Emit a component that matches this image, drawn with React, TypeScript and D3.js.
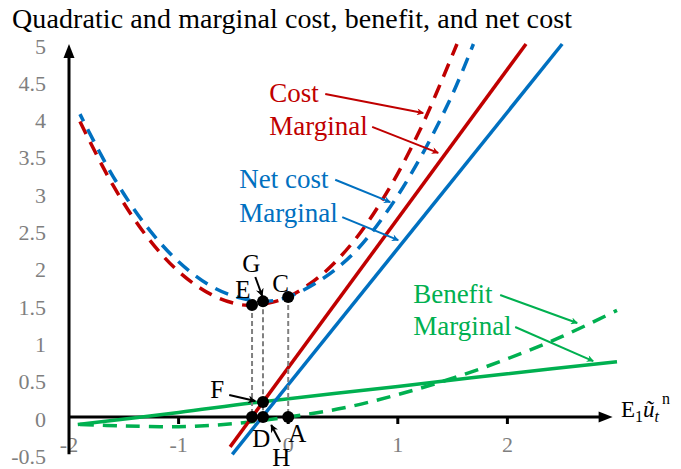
import React from 'react';
import * as d3 from 'd3';

const W = 681;
const H = 469;
const FONT = '"Liberation Serif", "Times New Roman", serif';

const title = 'Quadratic and marginal cost, benefit, and net cost';
const xTicks = [-2, -1, 0, 1, 2];
const xTickLabels = ['-2', '-1', '0', '1', '2'];
const yTicks = [-0.5, 0, 0.5, 1, 1.5, 2, 2.5, 3, 3.5, 4, 4.5, 5];
const yTickLabels = ['-0.5', '0', '0.5', '1', '1.5', '2', '2.5', '3', '3.5', '4', '4.5', '5'];

// Quadratic cost (red dashed)
const costX = [-1.9, -1.6, -1.3, -1.0, -0.7, -0.45, -0.33, -0.2, 0, 0.3, 0.6, 0.9, 1.2, 1.54];
const costY = [3.96, 3.11, 2.44, 1.95, 1.64, 1.51, 1.5, 1.52, 1.61, 1.9, 2.36, 3.01, 3.84, 5.0];
// Quadratic net cost (blue dashed)
const netX = [-1.9, -1.6, -1.3, -1.0, -0.7, -0.45, -0.22, 0, 0.3, 0.6, 0.9, 1.2, 1.5, 1.69];
const netY = [4.06, 3.23, 2.57, 2.08, 1.75, 1.6, 1.55, 1.61, 1.84, 2.2, 2.75, 3.46, 4.33, 5.0];
// Quadratic benefit (green dashed)
const benX = [-1.9, -1.5, -1.0, -0.5, 0, 0.5, 1.0, 1.5, 2.0, 2.5, 3.0];
const benY = [-0.1, -0.12, -0.13, -0.09, 0.0, 0.12, 0.3, 0.52, 0.78, 1.08, 1.43];
// Marginal benefit (green solid)
const mbX = [-1.92, -1.0, -0.32, 1.0, 2.0, 3.0];
const mbY = [-0.1, 0.06, 0.19, 0.41, 0.58, 0.74];
// Marginal cost (red solid)
const mcX = [-0.53, 2.17];
const mcY = [-0.4, 5.0];
// Marginal net cost (blue solid)
const mncX = [-0.51, 2.5];
const mncY = [-0.5, 5.0];

// Key points
const ptX = [-0.33, -0.23, 0, -0.23, -0.23, -0.33, 0];
const ptY = [1.5, 1.55, 1.61, 0.2, 0, 0, 0];
// Vertical guides from these points to the axis
const guideX = [-0.33, -0.23, 0];
const guideY = [1.5, 1.55, 1.61];

// Point letter labels (data coords of text start / baseline)
const letters = ['E', 'G', 'C', 'F', 'D', 'A', 'H'];
const letterX = [-0.484, -0.42, -0.146, -0.712, -0.328, 0.0, -0.146];
const letterY = [1.595, 1.944, 1.676, 0.255, -0.402, -0.335, -0.66];

// Series labels
const seriesText = ['Cost', 'Marginal', 'Net cost', 'Marginal', 'Benefit', 'Marginal'];
const seriesColor = ['#C00000', '#C00000', '#0070C0', '#0070C0', '#00B050', '#00B050'];
const seriesLX = [-0.173, -0.173, -0.447, -0.447, 1.14, 1.14];
const seriesLY = [4.22, 3.78, 3.07, 2.61, 1.53, 1.1];
// Annotation arrows
const arrowFrom = [[0.338, 4.33], [0.766, 3.89], [0.429, 3.18], [0.493, 2.68], [1.934, 1.635], [2.071, 1.206], [-0.538, 0.295], [-0.3, 1.877], [-0.073, -0.335]];
const arrowTo = [[1.232, 4.075], [1.369, 3.54], [0.931, 2.88], [1.004, 2.37], [2.637, 1.26], [2.783, 0.75], [-0.3, 0.214], [-0.237, 1.622], [-0.155, -0.107]];
const arrowColor = ['#C00000', '#C00000', '#0070C0', '#0070C0', '#00B050', '#00B050', '#000', '#000', '#000'];

const RED = '#C00000';
const BLUE = '#0070C0';
const GREEN = '#00B050';

export default function App() {
  const x = d3.scaleLinear().domain([-2, 3]).range([69, 617]);
  const y = d3.scaleLinear().domain([-0.5, 5]).range([454.3, 44]);
  const line = d3
    .line<[number, number]>()
    .x((d) => x(d[0]))
    .y((d) => y(d[1]))
    .curve(d3.curveCatmullRom.alpha(0.5));
  const zip = (a: number[], b: number[]) => a.map((v, i) => [v, b[i]] as [number, number]);

  const x0 = x(-2);
  const y0 = y(0);
  const xEnd = x(2.96);
  const yTop = y(5);

  const markerIds: Record<string, string> = { '#C00000': 'mr', '#0070C0': 'mb', '#00B050': 'mg', '#000': 'mk' };

  return (
    <svg width={W} height={H} style={{ position: 'absolute', left: 0, top: 0, background: '#fff' }} fontFamily={FONT}>
      <defs>
        {Object.entries(markerIds).map(([c, id]) => (
          <marker key={id} id={id} viewBox="0 0 10 10" refX="9" refY="5" markerWidth={id === 'mk' ? 10 : 9} markerHeight={id === 'mk' ? 8 : 7} markerUnits="userSpaceOnUse" orient="auto">
            <path d="M0,0 L10,5 L0,10 L3,5 Z" fill={c} />
          </marker>
        ))}
      </defs>
      <rect x={0} y={0} width={W} height={H} fill="#fff" />
      <text x={12} y={28} fontSize={28} fill="#000" textLength={560} lengthAdjust="spacing">{title}</text>

      {/* tick labels */}
      {yTicks.map((t, i) => (
        <text key={'y' + i} x={46} y={y(t) + 9.5} fontSize={22} fill="#7f7f7f" textAnchor="end">{yTickLabels[i]}</text>
      ))}
      {xTicks.map((t, i) => (
        <text key={'x' + i} x={x(t)} y={452} fontSize={22} fill="#7f7f7f" textAnchor="middle">{xTickLabels[i]}</text>
      ))}

      {/* axes */}
      <line x1={x0} x2={x0} y1={y(-0.5)} y2={yTop + 12} stroke="#000" strokeWidth={3} />
      <path d={`M${x0},${yTop} L${x0 - 5.5},${yTop + 14} L${x0 + 5.5},${yTop + 14} Z`} fill="#000" />
      <line x1={x0} x2={xEnd - 12} y1={y0} y2={y0} stroke="#000" strokeWidth={3} />
      <path d={`M${xEnd},${y0} L${xEnd - 14},${y0 - 5.5} L${xEnd - 14},${y0 + 5.5} Z`} fill="#000" />
      {xTicks.slice(1).map((t, i) => (
        <line key={'t' + i} x1={x(t)} x2={x(t)} y1={y0} y2={y0 + 7} stroke="#000" strokeWidth={3} />
      ))}
      <text x={621} y={417} fontSize={23} fill="#000">
        E<tspan fontSize={16} dy={5}>1</tspan>
        <tspan fontStyle="italic" dy={-5}>ũ</tspan>
        <tspan fontStyle="italic" fontSize={16} dy={5}>t</tspan>
        <tspan fontSize={16} dx={3} dy={-18}>n</tspan>
      </text>

      {/* curves */}
      <path d={line(zip(benX, benY)) || ''} fill="none" stroke={GREEN} strokeWidth={3.5} strokeDasharray="14 9" />
      <path d={line(zip(mbX, mbY)) || ''} fill="none" stroke={GREEN} strokeWidth={3.5} />
      <path d={line(zip(costX, costY)) || ''} fill="none" stroke={RED} strokeWidth={3.5} strokeDasharray="14 9" />
      <path d={line(zip(netX, netY)) || ''} fill="none" stroke={BLUE} strokeWidth={3.5} strokeDasharray="14 9" strokeDashoffset={6} />
      <path d={line(zip(mcX, mcY)) || ''} fill="none" stroke={RED} strokeWidth={3.5} />
      <path d={line(zip(mncX, mncY)) || ''} fill="none" stroke={BLUE} strokeWidth={3.5} />

      {/* guides */}
      {guideX.map((gx, i) => (
        <line key={'g' + i} x1={x(gx)} x2={x(gx)} y1={y(guideY[i])} y2={y0} stroke="#808080" strokeWidth={2} strokeDasharray="5 3" />
      ))}

      {ptX.map((px, i) => (
        <circle key={'p' + i} cx={x(px)} cy={y(ptY[i])} r={6} fill="#000" />
      ))}

      {/* arrows */}
      {arrowFrom.map((f, i) => (
        <line key={'a' + i} x1={x(f[0])} y1={y(f[1])} x2={x(arrowTo[i][0])} y2={y(arrowTo[i][1])} stroke={arrowColor[i]} strokeWidth={2} markerEnd={`url(#${markerIds[arrowColor[i]]})`} />
      ))}

      {/* letters */}
      {letters.map((l, i) => (
        <text key={'l' + i} x={x(letterX[i])} y={y(letterY[i])} fontSize={25} fill="#000">{l}</text>
      ))}

      {/* series labels */}
      {seriesText.map((s, i) => (
        <text key={'s' + i} x={x(seriesLX[i])} y={y(seriesLY[i])} fontSize={27} fill={seriesColor[i]}>{s}</text>
      ))}
    </svg>
  );
}
